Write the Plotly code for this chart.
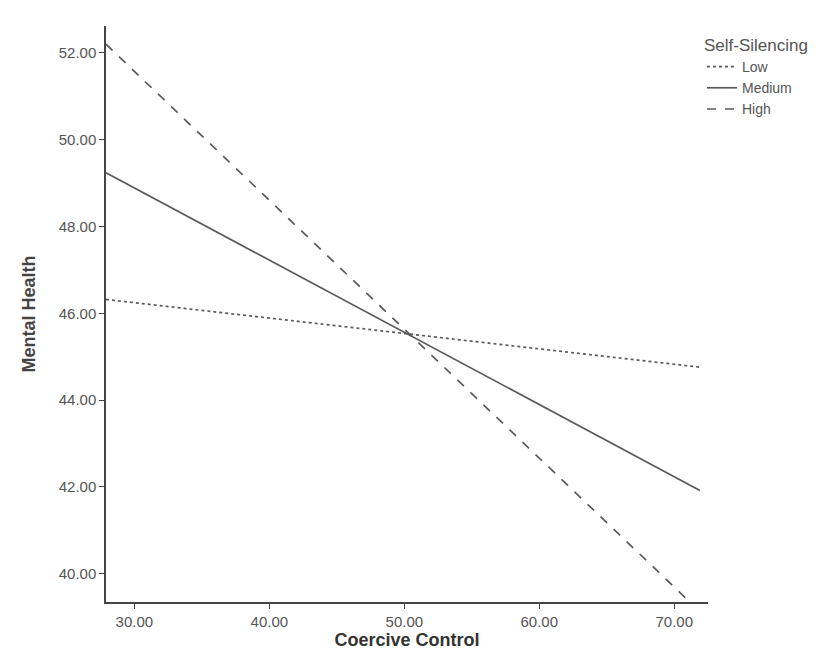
import plotly.graph_objects as go

# Data (simple slopes)
x_ends = [27.9, 71.9]
low = [46.32, 44.76]
medium = [49.24, 41.92]
high = [52.20, 39.13]
series_names = ["Low", "Medium", "High"]
series_dash = ["dot", "solid", "dash"]
x_ticks = [30, 40, 50, 60, 70]
y_ticks = [40, 42, 44, 46, 48, 50, 52]

FONT = "Arial, Liberation Sans"

fig = go.Figure()
for name, vals, dash in zip(series_names, [low, medium, high], series_dash):
    fig.add_trace(go.Scatter(
        x=x_ends, y=vals, mode="lines", name=name,
        line=dict(color="#5a5a5a", width=1.7, dash=dash),
    ))

axis_common = dict(
    showgrid=False, zeroline=False, showline=True, linecolor="#444",
    linewidth=1.5, ticks="outside", ticklen=5, tickcolor="#444",
    tickformat=".2f", tickfont=dict(family=FONT, size=15, color="#555"),
    mirror=False, automargin=False,
)

fig.update_layout(
    width=828, height=652,
    paper_bgcolor="white", plot_bgcolor="white",
    margin=dict(l=98, r=128, t=18, b=58),
    xaxis=dict(range=[27.9, 72.5], tickvals=x_ticks,
               title=dict(text="<b>Coercive Control</b>", standoff=5,
                          font=dict(family=FONT, size=18, color="#333")),
               **axis_common),
    yaxis=dict(range=[39.35, 52.62], tickvals=y_ticks,
               title=dict(text="<b>Mental Health</b>", standoff=18,
                          font=dict(family=FONT, size=18, color="#444")),
               **axis_common),
    legend=dict(
        x=0.99, y=0.995, xanchor="left", yanchor="top",
        title=dict(text="Self-Silencing", font=dict(family=FONT, size=17, color="#555")),
        font=dict(family=FONT, size=14, color="#555"),
        itemwidth=30, tracegroupgap=0, bgcolor="rgba(0,0,0,0)",
    ),
    showlegend=True,
)

fig.write_html("out.html")
